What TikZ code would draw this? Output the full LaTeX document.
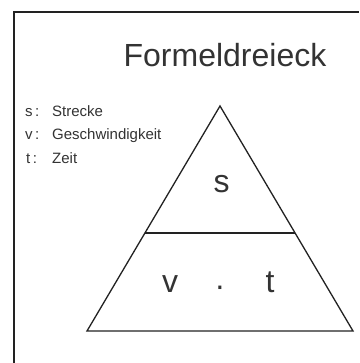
\documentclass[tikz,border=0pt]{standalone}
\usepackage{fontspec}
\setmainfont{Liberation Sans}
\usetikzlibrary{calc}
\definecolor{inkline}{HTML}{222222}
\definecolor{inktext}{HTML}{333333}
\tikzset{
  frameline/.style={draw=inkline, line width=1.5pt},
  triline/.style={draw=inkline, line width=1.3pt, line join=miter},
  titletext/.style={text=inktext, inner sep=0pt, anchor=base, font=\fontsize{32}{38}\selectfont},
  bigletter/.style={text=inktext, inner sep=0pt, anchor=base, font=\fontsize{32}{38}\selectfont},
  legendtext/.style={text=inktext, inner sep=0pt, anchor=base west, font=\fontsize{15}{18}\selectfont},
}
\begin{document}
\begin{tikzpicture}[x=1pt,y=-1pt]
\useasboundingbox (0,0) rectangle (359,363);
\fill[white] (0,0) rectangle (359,363);
% frame (partly cut off at right and bottom)
\coordinate (fbl) at (14,363);
\coordinate (ftl) at (14,12);
\coordinate (ftr) at (359,12);
\draw[frameline] (fbl) -- (ftl) -- (ftr);
% title
\node[titletext] (title) at (225,67) {Formeldreieck};
% legend
\node[legendtext] (ls) at (25,117) {s\,:};
\node[legendtext] (lsv) at (52,117) {Strecke};
\node[legendtext] (lv) at (25,140) {v\,:};
\node[legendtext] (lvv) at (52,140) {Geschwindigkeit};
\node[legendtext] (lt) at (26,164) {t\,:};
\node[legendtext] (ltv) at (52,164) {Zeit};
% triangle
\coordinate (apex) at (220,106);
\coordinate (bl) at (87,331);
\coordinate (br) at (353,331);
\coordinate (dl) at ($(apex)!0.5644!(bl)$);
\coordinate (dr) at ($(apex)!0.5644!(br)$);
\draw[triline] (apex) -- (bl) -- (br) -- cycle;
\draw[triline] (dl) -- (dr);
% letters
\node[bigletter] (s) at (221.5,192) {s};
\node[bigletter] (v) at (170,292) {v};
\node[bigletter] (dot) at (220,296) {·};
\node[bigletter] (t) at (270,292) {t};
\end{tikzpicture}
\end{document}
